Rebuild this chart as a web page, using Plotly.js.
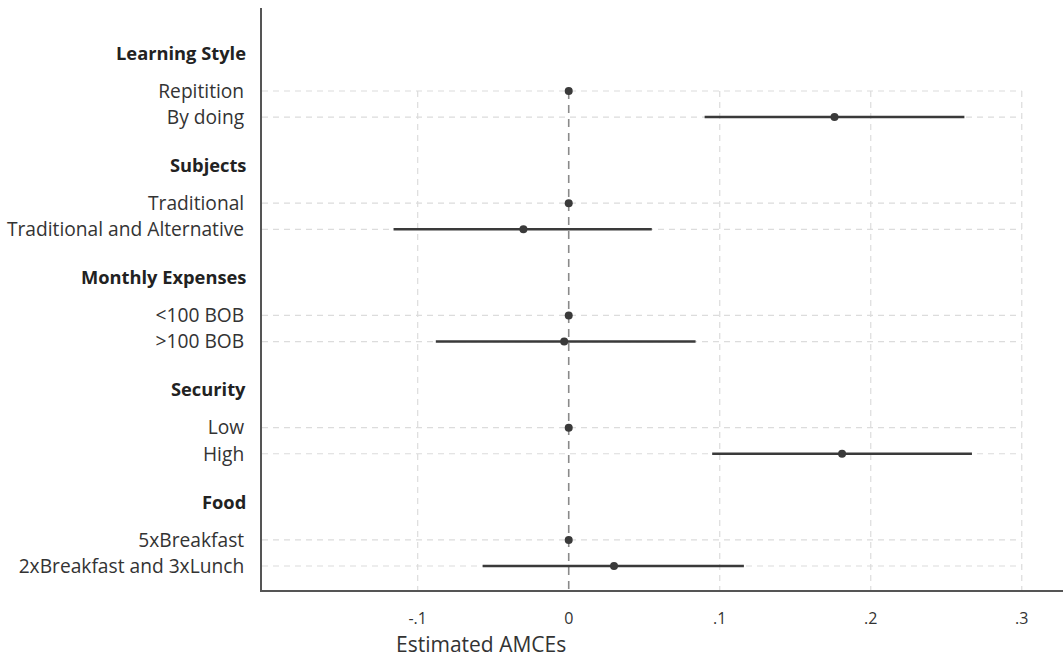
<!DOCTYPE html>
<html>
<head>
<meta charset="utf-8">
<script src="https://cdn.plot.ly/plotly-3.0.1.min.js"></script>
<style>html,body{margin:0;padding:0;background:#fff;}#chart{width:1063px;height:660px;}</style>
</head>
<body>
<div id="chart"></div>
<script>
// ---- data ----
const groups = ["Learning Style", "Subjects", "Monthly Expenses", "Security", "Food"];
const levels = [
  ["Repitition", "By doing"],
  ["Traditional", "Traditional and Alternative"],
  ["<100 BOB", ">100 BOB"],
  ["Low", "High"],
  ["5xBreakfast", "2xBreakfast and 3xLunch"]
];
const estimates = [
  [0, 0.176],
  [0, -0.030],
  [0, -0.003],
  [0, 0.181],
  [0, 0.030]
];
const lowerCI = [
  [null, 0.090],
  [null, -0.116],
  [null, -0.088],
  [null, 0.095],
  [null, -0.057]
];
const upperCI = [
  [null, 0.262],
  [null, 0.055],
  [null, 0.084],
  [null, 0.267],
  [null, 0.116]
];
const xTickVals = [-0.1, 0, 0.1, 0.2, 0.3];
const xTickText = ["-.1", "0", ".1", ".2", ".3"];
const xTitle = "Estimated AMCEs";

// ---- layout helpers ----
const GSTEP = 4.3, HOFF = 1.49;
const yRange = [19.12, -3.18];
const xRange = [-0.2031, 0.3273];
const ink = "#3a3a3a";
const font = "'Open Sans', Lato, sans-serif";

const ptsX = [], ptsY = [], tickVals = [], tickText = [];
const ciX = [], ciY = [];
const annotations = [];
groups.forEach((g, gi) => {
  annotations.push({
    text: "<b>" + g + "</b>", xref: "paper", yref: "y", x: 0, y: gi * GSTEP - HOFF,
    xanchor: "right", yanchor: "middle", xshift: -14, showarrow: false,
    font: {family: font, size: 18.3, color: "#222"}
  });
  levels[gi].forEach((lv, li) => {
    const y = gi * GSTEP + li;
    tickVals.push(y); tickText.push(lv);
    ptsX.push(estimates[gi][li]); ptsY.push(y);
    if (lowerCI[gi][li] !== null) {
      ciX.push(lowerCI[gi][li], upperCI[gi][li], null);
      ciY.push(y, y, null);
    }
  });
});
annotations.push({
  text: xTitle, xref: "paper", yref: "paper", x: 0.274, y: 0, yshift: -54,
  xanchor: "center", yanchor: "middle", showarrow: false,
  font: {family: font, size: 21, color: "#333"}
});

const yTop = tickVals[0], yBot = yRange[0];
const shapes = [];
xTickVals.forEach(v => {
  shapes.push({type: "line", xref: "x", yref: "y", x0: v, x1: v, y0: yTop, y1: yBot,
    line: {color: v === 0 ? "#8a8a8a" : "#dcdcdc", width: v === 0 ? 1.6 : 1.2, dash: v === 0 ? "8px,6px" : "6px,5px"}, layer: "below"});
});
tickVals.forEach(y => {
  shapes.push({type: "line", xref: "x", yref: "y", x0: xRange[0], x1: xTickVals[xTickVals.length - 1], y0: y, y1: y,
    line: {color: "#dcdcdc", width: 1.2, dash: "6px,5px"}, layer: "below"});
});

const traces = [
  {type: "scatter", mode: "lines", x: ciX, y: ciY, line: {color: ink, width: 2.5}, hoverinfo: "skip", showlegend: false},
  {type: "scatter", mode: "markers", x: ptsX, y: ptsY, marker: {color: ink, size: 8}, showlegend: false}
];

const layout = {
  width: 1063, height: 660,
  margin: {l: 262, r: 0, t: 8, b: 70},
  paper_bgcolor: "#fff", plot_bgcolor: "#fff",
  font: {family: font, color: "#333"},
  showlegend: false,
  xaxis: {
    range: xRange, tickvals: xTickVals, ticktext: xTickText, showgrid: false, zeroline: false,
    showline: true, linecolor: "#555", linewidth: 2, ticks: "outside", ticklen: 13, tickcolor: "rgba(0,0,0,0)",
    tickfont: {family: font, size: 16, color: "#333"}
  },
  yaxis: {
    range: yRange, tickvals: tickVals, ticktext: tickText, showgrid: false, zeroline: false,
    showline: true, linecolor: "#555", linewidth: 2, ticks: "outside", ticklen: 12, tickcolor: "rgba(0,0,0,0)",
    tickfont: {family: font, size: 19.2, color: "#333"}
  },
  shapes: shapes,
  annotations: annotations
};

Plotly.newPlot("chart", traces, layout, {displayModeBar: false, staticPlot: true});
</script>
</body>
</html>
